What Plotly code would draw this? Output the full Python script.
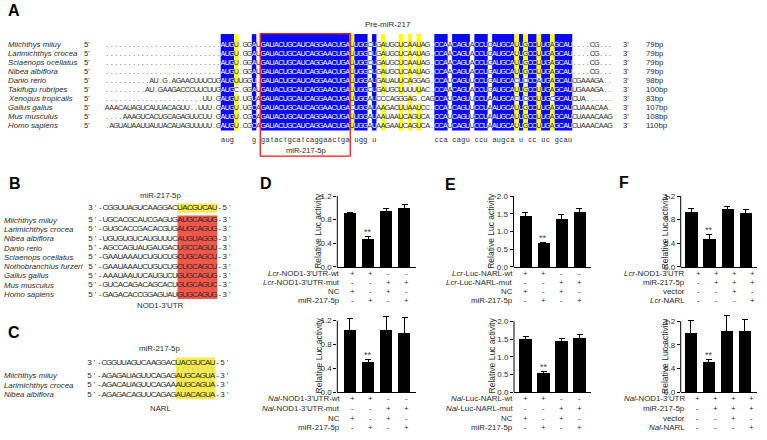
import plotly.graph_objects as go
from collections import Counter

W, H = 767, 440
FONT = "Liberation Sans, Arial, Helvetica, sans-serif"
INK = "#2b2b2b"
BLUE = "#0a0af2"
YELLOW = "#ffff14"
RED_BOX = "#ee1c1c"
SALMON = "#f2574a"
PALE_Y = "#f5ea4f"

# ---------------- Panel A data ----------------
a_species = ["Miichthys miiuy", "Larimichthys crocea", "Sciaenops ocellatus", "Nibea albiflora",
             "Danio rerio", "Takifugu rubripes", "Xenopus tropicalis", "Gallus gallus",
             "Mus musculus", "Homo sapiens"]
a_bp = ["79bp", "79bp", "79bp", "79bp", "98bp", "100bp", "83bp", "107bp", "108bp", "110bp"]
mature = "GAUACUGCAUCAGGAACUGA"
fish_seq = "." * 26 + "AUGU" + ".GGAU" + mature + "UUGGCUGAUGCUCAAUAG." + "CCAACAGUACCUGAUGCAUUGCCUUGAGCAU" + "....CG..."
a_seqs = [
    fish_seq, fish_seq, fish_seq, fish_seq,
    "..........AU.G.AGAACUUUCUG" + "AUGU" + "UGGU." + mature + "UUGGAUGAUAUUCAGGAG." + "CCAUCAGUUCCUGAUGCACUCCCAUGAGCAU" + "CGAAAGA..",
    ".........AU.GAAGACCCUUCUUG" + "AUGC" + ".GGAU" + mature + "UUGGCUGAUGCUUUUUAC." + "CCAACAGUACCUGAUGCAUUGCCUUGAGCAU" + "UGAAAGA..",
    "." * 22 + "UU.G" + "AUGU" + ".UGUA" + mature + "UUGGAUCCCAGGGAG.CAG" + "CCAUCAGUUCCUAAUGCACUCCCUUGCGCAU" + "CUA......",
    "AAACAUAGUCAUUACAGUU..UUU.G" + "AUGU" + ".UGCA" + mature + "CUGGAUAAGACUUAAUCC." + "CCAUCAGUUCCUAAUGCAUUGCCUUGAGCAU" + "CUAAACAA.",
    "....AAAGUCACUGCAGAGUUCUU.G" + "AUGU" + ".CGCA" + mature + "UUGGAUAAUAAUCAGUCA." + "CCAUCAGUUCCUAAUGCAUUGCCUUGAGCAU" + "CUAAACAAG",
    ".AGUAUAAUUAUUACAUAGUUUUU.G" + "AUGU" + ".CGCA" + mature + "UUGGAUAAGAAUCAGUCA." + "CCAUCAGUUCCUAAUGCAUUGCCUUGAGCAU" + "CUAAACAAG",
]
a_consensus = (" " * 26 + "aug" + " " * 4 + "g" + " " + "gatactgcatcaggaactga" + " " + "ugg" + " " + "u"
               + " " * 13 + "cca" + " " + "cagu" + " " + "ccu" + " " + "augca" + " " + "u" + " " + "cc"
               + " " + "uc" + " " + "gcau" + " " * 9)
a_yellow_cols = [29, 55, 62, 66, 68, 70, 92, 94, 97, 100]

# ---------------- Panel B / C data ----------------
mirna = "3'-CGGUUAGUCAAGGACUACGUCAU-5'"
b_species = ["Miichthys miiuy", "Larimichthys crocea", "Nibea albiflora", "Danio rerio",
             "Sciaenops ocellatus", "Nothobranchius furzeri", "Gallus gallus", "Mus musculus",
             "Homo sapiens"]
b_targets = ["5'-UGCACGCAUCGAGUGAUGCAGUG-3'", "5'-GUGCACCGACACGUGAUGCAGUG-3'",
             "5'-UGUGUGUCAUGUUUCAUGUAGGG-3'", "5'-AGCCAGUAUGAUGACUGCCAGUU-3'",
             "5'-GAAUAAAUCUGUCUGCUGCAGCU-3'", "5'-GAAUAAAUCUGUCUGCUGCAGCU-3'",
             "5'-AAAUAAUUCAUGUCUGUGCAGUG-3'", "5'-GUCACAGACAGCACUGUGCAGUC-3'",
             "5'-GAGACACCGGAGUAUGUGCAGUG-3'"]
c_species = ["Miichthys miiuy", "Larimichthys crocea", "Nibea albiflora"]
c_targets = ["5'-AGAGAUAGUUCAGAGAUGCAGUA-3'", "5'-AGACAUAGUUCAGAAAUGCAGUA-3'",
             "5'-AGAGACAGUUCAGAGAUACAGUA-3'"]

# ---------------- Panels D / E / F data ----------------
groups = [0, 1, 2, 3]
d_top_vals = [0.90, 0.47, 0.95, 1.00]
d_top_errs = [0.025, 0.05, 0.04, 0.06]
d_bot_vals = [1.04, 0.51, 1.04, 1.00]
d_bot_errs = [0.19, 0.04, 0.23, 0.26]
e_top_vals = [1.42, 0.66, 1.35, 1.54]
e_top_errs = [0.11, 0.04, 0.12, 0.12]
e_bot_vals = [1.51, 0.54, 1.45, 1.54]
e_bot_errs = [0.07, 0.05, 0.06, 0.09]
f_top_vals = [0.92, 0.47, 0.97, 0.915]
f_top_errs = [0.07, 0.08, 0.05, 0.06]
f_bot_vals = [1.01, 0.52, 1.04, 1.04]
f_bot_errs = [0.21, 0.04, 0.25, 0.19]

d_top_labels = ["<i>Lcr</i>-NOD1-3'UTR-wt", "<i>Lcr</i>-NOD1-3'UTR-mut", "NC", "miR-217-5p"]
d_bot_labels = ["<i>Nal</i>-NOD1-3'UTR-wt", "<i>Nal</i>-NOD1-3'UTR-mut", "NC", "miR-217-5p"]
e_top_labels = ["<i>Lcr</i>-Luc-NARL-wt", "<i>Lcr</i>-Luc-NARL-mut", "NC", "miR-217-5p"]
e_bot_labels = ["<i>Nal</i>-Luc-NARL-wt", "<i>Nal</i>-Luc-NARL-mut", "NC", "miR-217-5p"]
f_top_labels = ["<i>Lcr</i>-NOD1-3'UTR", "miR-217-5p", "vector", "<i>Lcr</i>-NARL"]
f_bot_labels = ["<i>Nal</i>-NOD1-3'UTR", "miR-217-5p", "vector", "<i>Nal</i>-NARL"]
de_signs = [["+", "+", "-", "-"], ["-", "-", "+", "+"], ["+", "-", "+", "-"], ["-", "+", "-", "+"]]
f_signs = [["+", "+", "+", "+"], ["-", "+", "+", "+"], ["-", "-", "+", "-"], ["-", "-", "-", "+"]]
y_title = "Relative Luc activity"

# =====================================================================
fig = go.Figure()
shapes = []
annotations = []


def ann(x, y, text, size=7.5, xanchor="center", yanchor="middle", color=INK,
        textangle=0, xref="x", yref="y", xshift=0, yshift=0):
    annotations.append(dict(x=x, y=y, xref=xref, yref=yref, text=text, showarrow=False,
                            xanchor=xanchor, yanchor=yanchor, textangle=textangle,
                            xshift=xshift, yshift=yshift, borderpad=0,
                            font=dict(family=FONT, size=size, color=color)))


def rect(x0, x1, y0, y1, fill, line=None, width=0):
    shapes.append(dict(type="rect", xref="x", yref="y", x0=x0, x1=x1, y0=y0, y1=y1,
                       fillcolor=fill, line=dict(color=line or fill, width=width), layer="below"))


def chars(xs, ys, txt, colors, size):
    fig.add_trace(go.Scatter(x=xs, y=ys, text=txt, mode="text", xaxis="x", yaxis="y",
                             textfont=dict(family=FONT, size=size, color=colors),
                             hoverinfo="skip", showlegend=False, cliponaxis=False))


# ---------------- Panel A ----------------
A_X0, A_PITCH = 105.0, 4.45
A_Y0, A_DY = 45.5, 9.1
A_TOP, A_BOT = 34.5, 132.0
ncol = len(a_consensus)
seqs = [s.ljust(ncol, ".")[:ncol] for s in a_seqs]
blue_cols = [c for c, ch in enumerate(a_consensus) if ch != " "]
runs = []
for c in blue_cols:
    if runs and runs[-1][1] == c - 1:
        runs[-1][1] = c
    else:
        runs.append([c, c])
for c0, c1 in runs:
    rect(A_X0 + c0 * A_PITCH, A_X0 + (c1 + 1) * A_PITCH, A_TOP, A_BOT, BLUE)
for c in a_yellow_cols:
    letters = [s[c] for s in seqs if s[c] != "."]
    mode = Counter(letters).most_common(1)[0][0]
    for i, s in enumerate(seqs):
        if s[c] == mode:
            yc = A_Y0 + i * A_DY
            y0 = A_TOP if i == 0 else yc - A_DY / 2
            y1 = A_BOT if i == len(seqs) - 1 else yc + A_DY / 2
            rect(A_X0 + c * A_PITCH, A_X0 + (c + 1) * A_PITCH, y0, y1, YELLOW)

xs, ys, tx, cols = [], [], [], []
for i, s in enumerate(seqs):
    for c, ch in enumerate(s):
        xs.append(A_X0 + (c + 0.5) * A_PITCH)
        ys.append(A_Y0 + i * A_DY)
        tx.append(ch)
        cols.append("white" if c in blue_cols else INK)
for c, ch in enumerate(a_consensus):
    if ch != " ":
        xs.append(A_X0 + (c + 0.5) * A_PITCH)
        ys.append(141.5)
        tx.append(ch)
        cols.append(INK)
chars(xs, ys, tx, cols, 7.2)

for i, (sp, bp) in enumerate(zip(a_species, a_bp)):
    y = A_Y0 + i * A_DY
    ann(7, y, f"<i>{sp}</i>", size=7.8, xanchor="left")
    ann(83, y, "5'", size=7.6, xanchor="left")
    ann(622, y, "3'", size=7.6, xanchor="left")
    ann(645, y, bp, size=7.8, xanchor="left")
ann(388, 25, "Pre-miR-217", size=8)
shapes.append(dict(type="rect", xref="x", yref="y", x0=A_X0 + 35 * A_PITCH - 0.5,
                   x1=A_X0 + 55 * A_PITCH + 0.5, y0=34, y1=158,
                   line=dict(color=RED_BOX, width=1.3), fillcolor="rgba(0,0,0,0)", layer="above"))
ann(305.5, 152.5, "miR-217-5p", size=7.6)

# ---------------- Panel B ----------------
B_X0, B_P = 88.0, 4.97
b_rows_y = [222.7 + 9.4 * i for i in range(len(b_targets))]
B_MI_Y = 210.7
rect(B_X0 + 18 * B_P, B_X0 + 26 * B_P, 205.8, 215.2, PALE_Y)
rect(B_X0 + 18 * B_P, B_X0 + 26 * B_P, 218.0, b_rows_y[-1] + 4.5, SALMON)
xs, ys, tx, cols = [], [], [], []
for j, ch in enumerate(mirna):
    xs.append(B_X0 + (j + 0.5) * B_P); ys.append(B_MI_Y); tx.append(ch); cols.append(INK)
for i, t in enumerate(b_targets):
    for j, ch in enumerate(t):
        xs.append(B_X0 + (j + 0.5) * B_P); ys.append(b_rows_y[i]); tx.append(ch); cols.append(INK)
chars(xs, ys, tx, cols, 8)
for i, sp in enumerate(b_species):
    ann(3, b_rows_y[i], f"<i>{sp}</i>", size=7.8, xanchor="left")
ann(160, 198, "miR-217-5p", size=7.8)
ann(160, 309.5, "NOD1-3'UTR", size=7.8)

# ---------------- Panel C ----------------
C_X0, C_P = 87.0, 4.93
c_rows_y = [380.0, 389.6, 399.2]
C_MI_Y = 366.7
rect(C_X0 + 18 * C_P, C_X0 + 26 * C_P, 361.5, 403.8, PALE_Y)
for j in range(18, 26):
    shapes.append(dict(type="line", xref="x", yref="y", x0=C_X0 + (j + 0.5) * C_P,
                       x1=C_X0 + (j + 0.5) * C_P, y0=371, y1=375.5,
                       line=dict(color="#d8cf60", width=0.8), layer="below"))
xs, ys, tx, cols = [], [], [], []
for j, ch in enumerate(mirna):
    xs.append(C_X0 + (j + 0.5) * C_P); ys.append(C_MI_Y); tx.append(ch); cols.append(INK)
for i, t in enumerate(c_targets):
    for j, ch in enumerate(t):
        xs.append(C_X0 + (j + 0.5) * C_P); ys.append(c_rows_y[i]); tx.append(ch); cols.append(INK)
chars(xs, ys, tx, cols, 8)
for i, sp in enumerate(c_species):
    ann(3, c_rows_y[i], f"<i>{sp}</i>", size=7.8, xanchor="left")
ann(159, 352, "miR-217-5p", size=7.8)
ann(160, 413, "NARL", size=7.8)

# ---------------- Panel labels ----------------
for lab, x, y in [("A", 14, 10.5), ("B", 15, 185.5), ("C", 13.5, 336.5),
                  ("D", 266, 185.5), ("E", 450.5, 186.5), ("F", 624, 185)]:
    ann(x, y, f"<b>{lab}</b>", size=16, color="black")

# ---------------- Bar charts ----------------
TOP_ROWS = [276.5, 285.5, 294.5, 304.0]
BOT_ROWS = [403.5, 413.3, 423.0, 432.6]
charts = [
    dict(vals=d_top_vals, errs=d_top_errs, yline=337.3, xend=416, c0=350.0, pitch=18.2,
         zero=270.0, toppx=198.3, topval=1.2, step=0.4, rtop=1.45, title_x=318.5, title_y=234,
         labels=d_top_labels, signs=de_signs, rows=TOP_ROWS, lab_x=340.7, sx=2),
    dict(vals=d_bot_vals, errs=d_bot_errs, yline=337.3, xend=416, c0=350.0, pitch=18.2,
         zero=396.7, toppx=324.3, topval=1.2, step=0.4, rtop=1.45, title_x=318.5, title_y=360,
         labels=d_bot_labels, signs=de_signs, rows=BOT_ROWS, lab_x=340.7, sx=2),
    dict(vals=e_top_vals, errs=e_top_errs, yline=513.5, xend=591, c0=525.4, pitch=18.0,
         zero=270.0, toppx=198.3, topval=2.0, step=0.5, rtop=2.3, title_x=491.5, title_y=234,
         labels=e_top_labels, signs=de_signs, rows=TOP_ROWS, lab_x=514.0, sx=0),
    dict(vals=e_bot_vals, errs=e_bot_errs, yline=514.0, xend=591, c0=525.6, pitch=18.0,
         zero=396.7, toppx=325.0, topval=2.0, step=0.5, rtop=2.3, title_x=491.5, title_y=360,
         labels=e_bot_labels, signs=de_signs, rows=BOT_ROWS, lab_x=514.0, sx=0),
    dict(vals=f_top_vals, errs=f_top_errs, yline=680.7, xend=757, c0=691.2, pitch=18.1,
         zero=270.0, toppx=198.3, topval=1.2, step=0.4, rtop=1.45, title_x=665, title_y=234,
         labels=f_top_labels, signs=f_signs, rows=TOP_ROWS, lab_x=685.7, sx=7),
    dict(vals=f_bot_vals, errs=f_bot_errs, yline=680.7, xend=757, c0=690.5, pitch=18.1,
         zero=396.7, toppx=325.0, topval=1.2, step=0.4, rtop=1.45, title_x=665, title_y=360,
         labels=f_bot_labels, signs=f_signs, rows=BOT_ROWS, lab_x=685.7, sx=7),
]

layout_axes = {}
for k, ch in enumerate(charts):
    n = k + 2
    xa, ya = f"x{n}", f"y{n}"
    left = -(ch["c0"] - ch["yline"]) / ch["pitch"]
    right = left + (ch["xend"] - ch["yline"]) / ch["pitch"]
    ppu = (ch["zero"] - ch["toppx"]) / ch["topval"]
    ytop_px = ch["zero"] - ch["rtop"] * ppu
    nt = int(round(ch["topval"] / ch["step"]))
    tvals = [round(i * ch["step"], 2) for i in range(nt + 1)]
    layout_axes[f"xaxis{n}"] = dict(domain=[ch["yline"] / W, ch["xend"] / W], range=[left, right],
                                    anchor=ya, showline=True, linecolor="black", linewidth=1,
                                    showticklabels=False, ticks="", showgrid=False, zeroline=False,
                                    fixedrange=True)
    layout_axes[f"yaxis{n}"] = dict(domain=[1 - ch["zero"] / H, 1 - ytop_px / H],
                                    range=[0, ch["rtop"]], anchor=xa, showline=False,
                                    tickvals=tvals, ticktext=[f"{v:.1f}" for v in tvals],
                                    ticks="outside", ticklen=3, tickwidth=1, tickcolor="black",
                                    tickfont=dict(family=FONT, size=8, color=INK),
                                    showgrid=False, zeroline=False, fixedrange=True)
    fig.add_trace(go.Bar(x=groups, y=ch["vals"], width=0.68, marker=dict(color="black", line_width=0),
                         error_y=dict(type="data", array=ch["errs"], color="black", thickness=1, width=3),
                         xaxis=xa, yaxis=ya, showlegend=False, hoverinfo="skip"))
    shapes.append(dict(type="line", xref=f"{xa} domain", yref=ya, x0=0, x1=0, y0=0,
                       y1=ch["topval"], line=dict(color="black", width=1), layer="above"))
    ann(1, ch["vals"][1] + ch["errs"][1], "**", size=9, xref=xa, yref=ya, yanchor="bottom",
        yshift=-2, color="#444")
    ann(ch["title_x"], ch["title_y"], y_title, size=8.5, textangle=-90)
    for r, (lab, sg) in enumerate(zip(ch["labels"], ch["signs"])):
        ann(ch["lab_x"], ch["rows"][r], lab, size=7.9, xanchor="right")
        for g, s in zip(groups, sg):
            ann(g, ch["rows"][r], s, size=7.8, xref=xa, yref="y", xshift=ch["sx"])

fig.update_layout(
    width=W, height=H, autosize=False,
    margin=dict(l=0, r=0, t=0, b=0),
    paper_bgcolor="white", plot_bgcolor="rgba(0,0,0,0)",
    showlegend=False, bargap=0,
    xaxis=dict(domain=[0, 1], range=[0, W], visible=False, fixedrange=True),
    yaxis=dict(domain=[0, 1], range=[H, 0], visible=False, fixedrange=True),
    shapes=shapes, annotations=annotations,
    font=dict(family=FONT, color=INK),
    **layout_axes,
)
fig.write_html("out.html", config={"displayModeBar": False},
               post_script="document.body.style.margin='0';document.body.style.overflow='hidden';")
